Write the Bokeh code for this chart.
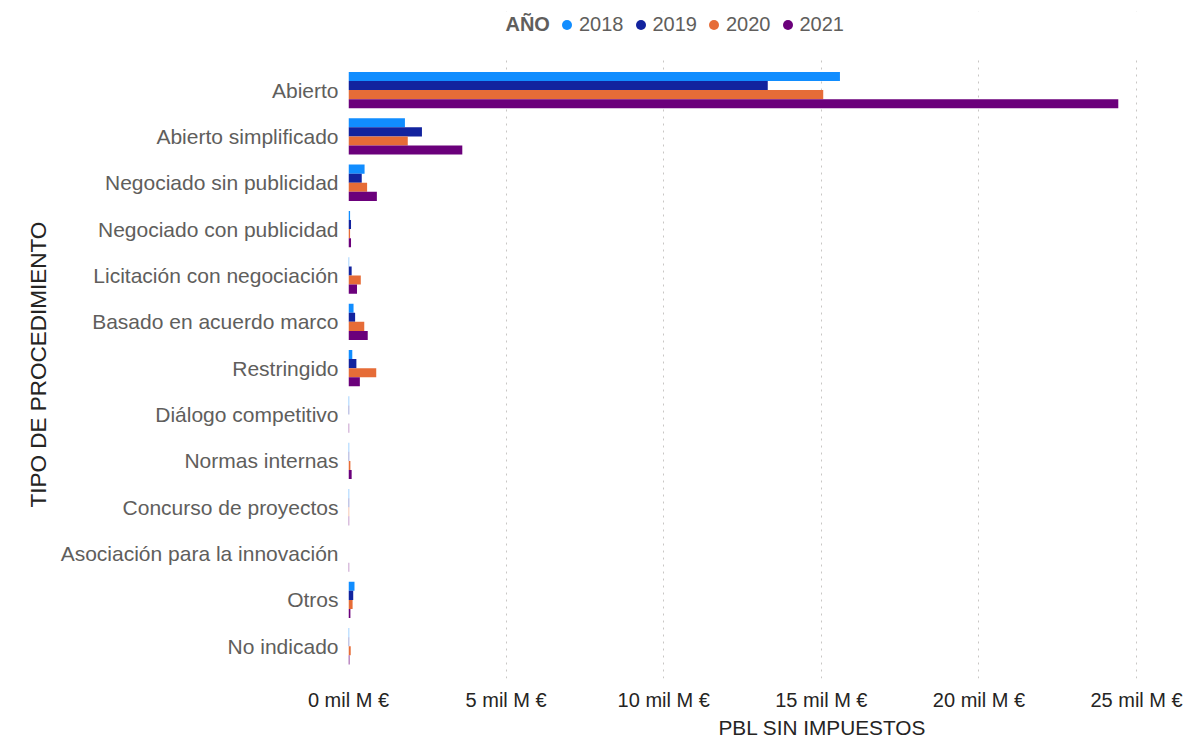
from bokeh.plotting import figure
from bokeh.models import (ColumnDataSource, FactorRange, Range1d, FixedTicker, Legend, LegendItem,
                          Label, Title, BoxAnnotation)
from bokeh.transform import dodge
from bokeh.embed import file_html
from bokeh.resources import INLINE

categories = ["Abierto", "Abierto simplificado", "Negociado sin publicidad", "Negociado con publicidad",
              "Licitación con negociación", "Basado en acuerdo marco", "Restringido", "Diálogo competitivo",
              "Normas internas", "Concurso de proyectos", "Asociación para la innovación", "Otros", "No indicado"]
years = ["2018", "2019", "2020", "2021"]
v2018 = [15.59, 1.79, 0.51, 0.05, 0.02, 0.16, 0.12, 0.02, 0.02, 0.02, 0.0, 0.19, 0.02]
v2019 = [13.30, 2.33, 0.42, 0.08, 0.10, 0.21, 0.25, 0.02, 0.02, 0.02, 0.0, 0.15, 0.02]
v2020 = [15.06, 1.88, 0.59, 0.05, 0.39, 0.50, 0.88, 0.0, 0.06, 0.02, 0.0, 0.13, 0.07]
v2021 = [24.42, 3.61, 0.90, 0.08, 0.27, 0.61, 0.36, 0.02, 0.10, 0.02, 0.02, 0.06, 0.03]
x_ticks = [0, 5, 10, 15, 20, 25]
tick_labels = ["0 mil M €", "5 mil M €", "10 mil M €", "15 mil M €", "20 mil M €", "25 mil M €"]
colors = ["#118DFF", "#12239E", "#E66C37", "#6B007B"]

FONT = "Liberation Sans"
src = ColumnDataSource(dict(cat=categories, y2018=v2018, y2019=v2019, y2020=v2020, y2021=v2021))

# a blank factor on top leaves room inside the frame for the legend row
factors = list(reversed(categories)) + [" "]
pad = 0.39 / len(factors)

p = figure(width=1192, height=738, output_backend="svg", toolbar_location=None,
           y_range=FactorRange(factors=factors, range_padding=pad),
           x_range=Range1d(0, 26.33))
p.min_border_left = 348
p.min_border_right = 14
p.min_border_top = 11
p.min_border_bottom = 55
p.outline_line_color = None
p.background_fill_color = "white"

p.xgrid.grid_line_color = "#C8C6C4"
p.xgrid.grid_line_dash = "2 5"
p.xgrid.grid_line_width = 1
p.ygrid.grid_line_color = None

# hide grid lines in the legend row
top_edge = len(categories) + pad * len(factors) / 2
p.add_layout(BoxAnnotation(bottom=top_edge, fill_color="white", fill_alpha=1, line_alpha=0,
                           level="underlay"))

bar_h = 0.196
offsets = [1.5 * bar_h, 0.5 * bar_h, -0.5 * bar_h, -1.5 * bar_h]
series = ["y2018", "y2019", "y2020", "y2021"]
for s, off, c in zip(series, offsets, colors):
    p.hbar(y=dodge("cat", off, range=p.y_range), left=0, right=s, height=bar_h, source=src,
           fill_color=c, line_color=None)

# x axis
p.xaxis.ticker = FixedTicker(ticks=x_ticks)
p.xaxis.major_label_overrides = {t: l for t, l in zip(x_ticks, tick_labels)}
p.xaxis.axis_line_color = None
p.xaxis.major_tick_line_color = None
p.xaxis.minor_tick_line_color = None
p.xaxis.major_tick_out = 0
p.xaxis.minor_tick_out = 0
p.xaxis.major_label_text_font = FONT
p.xaxis.major_label_text_font_size = "20px"
p.xaxis.major_label_text_color = "#252423"
p.xaxis.major_label_standoff = 10
p.xaxis.axis_label_standoff = 0

# y axis
p.yaxis.axis_line_color = None
p.yaxis.major_tick_line_color = None
p.yaxis.minor_tick_line_color = None
p.yaxis.major_tick_out = 0
p.yaxis.minor_tick_out = 0
p.yaxis.major_label_text_font = FONT
p.yaxis.major_label_text_font_size = "21px"
p.yaxis.major_label_text_color = "#605E5C"
p.yaxis.major_label_standoff = 10

# y title (offset so it is centred on the category area, not on the legend row)
p.add_layout(Title(text="TIPO DE PROCEDIMIENTO", align="left", offset=171, standoff=14,
                   text_font=FONT, text_font_size="22.5px", text_font_style="normal",
                   text_color="#252423"), "left")

# x title
p.add_layout(Title(text="PBL SIN IMPUESTOS", align="left", offset=370, standoff=0,
                   text_font=FONT, text_font_size="20.8px", text_font_style="normal",
                   text_color="#252423"), "below")

# legend title
p.add_layout(Label(x=4.98, y=13.92, x_units="data", y_units="data", text="AÑO",
                   text_font=FONT, text_font_size="20px", text_font_style="bold", text_color="#605E5C",
                   text_align="left", text_baseline="middle"))

# legend (marker renderers sit outside the visible x range)
items = []
for y, c in zip(years, colors):
    r = p.scatter(x=[-100], y=[" "], marker="circle", size=10, fill_color=c, line_color=None)
    items.append(LegendItem(label=y, renderers=[r]))
legend = Legend(items=items, orientation="horizontal", location=(206, 641),
                label_text_font=FONT, label_text_font_size="20px", label_text_color="#605E5C",
                glyph_width=25, glyph_height=25, label_standoff=-9, spacing=4,
                padding=0, margin=0, border_line_alpha=0, background_fill_alpha=0)
p.add_layout(legend, "center")

open("out.html", "w").write(file_html(p, INLINE))
